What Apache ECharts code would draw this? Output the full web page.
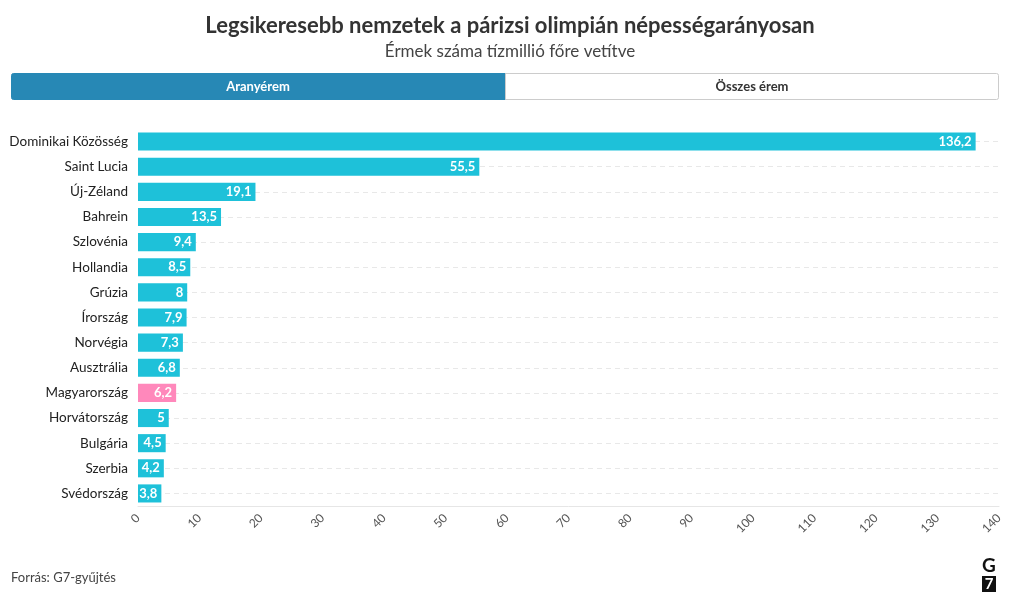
<!DOCTYPE html>
<html>
<head>
<meta charset="utf-8">
<script src="https://cdn.jsdelivr.net/npm/echarts@6/dist/echarts.min.js"></script>
<style>html,body{margin:0;padding:0;background:#fff}#c{width:1020px;height:612px}</style>
</head>
<body>
<div id="c"></div>
<script>
const categories = ['Dominikai Közösség','Saint Lucia','Új-Zéland','Bahrein','Szlovénia','Hollandia','Grúzia','Írország','Norvégia','Ausztrália','Magyarország','Horvátország','Bulgária','Szerbia','Svédország'];
const values = [136.2,55.5,19.1,13.5,9.4,8.5,8,7.9,7.3,6.8,6.2,5,4.5,4.2,3.8];
const highlight = 'Magyarország';
const xTicks = {min:0, max:140, interval:10};
const FONT = 'Lato, "Noto Sans", sans-serif';
const BASE = '#1ec1d9', HL = '#ff88bb';

const chart = echarts.init(document.getElementById('c'));
chart.setOption({
  animation:false,
  title:[
    {text:'Legsikeresebb nemzetek a párizsi olimpián népességarányosan', left:'center', top:10,
     textStyle:{fontFamily:FONT, fontSize:22, fontWeight:'bold', color:'#333'}},
    {text:'Érmek száma tízmillió főre vetítve', left:'center', top:38,
     textStyle:{fontFamily:FONT, fontSize:17, fontWeight:'normal', color:'#444'}}
  ],
  graphic:[
    {type:'rect', shape:{x:11.5,y:73.5,width:494,height:26,r:[2,0,0,2]}, style:{fill:'#2788b5',stroke:'#2788b5'}},
    {type:'rect', shape:{x:505.5,y:73.5,width:493,height:26,r:[0,2,2,0]}, style:{fill:'#fff',stroke:'#cccccc'}},
    {type:'text', x:258, y:87, style:{text:'Aranyérem', fill:'#fff', font:'bold 13px '+FONT, align:'center', verticalAlign:'middle'}},
    {type:'text', x:752, y:87, style:{text:'Összes érem', fill:'#333', font:'bold 13px '+FONT, align:'center', verticalAlign:'middle'}},
    {type:'text', x:11, y:578, style:{text:'Forrás: G7-gyűjtés', fill:'#444', font:'13px '+FONT, verticalAlign:'middle'}},
    {type:'text', x:989, y:566, style:{text:'G', fill:'#111', font:'bold 19px '+FONT, align:'center', verticalAlign:'middle'}},
    {type:'rect', shape:{x:982,y:576,width:14,height:16}, style:{fill:'#111'}},
    {type:'text', x:989, y:584.5, style:{text:'7', fill:'#fff', font:'bold 15px '+FONT, align:'center', verticalAlign:'middle'}}
  ],
  grid:{left:138, right:21, top:129, bottom:106, containLabel:false},
  xAxis:{type:'value', min:xTicks.min, max:xTicks.max, interval:xTicks.interval,
    axisLine:{show:true, lineStyle:{color:'#e6e6e6'}},
    axisTick:{show:false},
    splitLine:{show:false},
    axisLabel:{rotate:45, color:'#555', fontFamily:FONT, fontSize:12, margin:10}
  },
  yAxis:{type:'category', data:categories, inverse:true,
    axisLine:{show:false}, axisTick:{show:false},
    splitLine:{show:true, alignWithLabel:true, lineStyle:{type:[5,4], color:'#e8e8e8'}},
    axisLabel:{color:'#222', fontFamily:FONT, fontSize:13.5, margin:10}
  },
  series:[{type:'bar', barCategoryGap:'28%',
    data:values.map((v,i)=>({value:v, itemStyle:{color: categories[i]===highlight?HL:BASE}})),
    label:{show:true, position:'insideRight', color:'#fff', fontFamily:FONT, fontWeight:'bold', fontSize:13, distance:4,
      formatter:p=>String(p.value).replace('.',',')}
  }]
});
</script>
</body>
</html>
